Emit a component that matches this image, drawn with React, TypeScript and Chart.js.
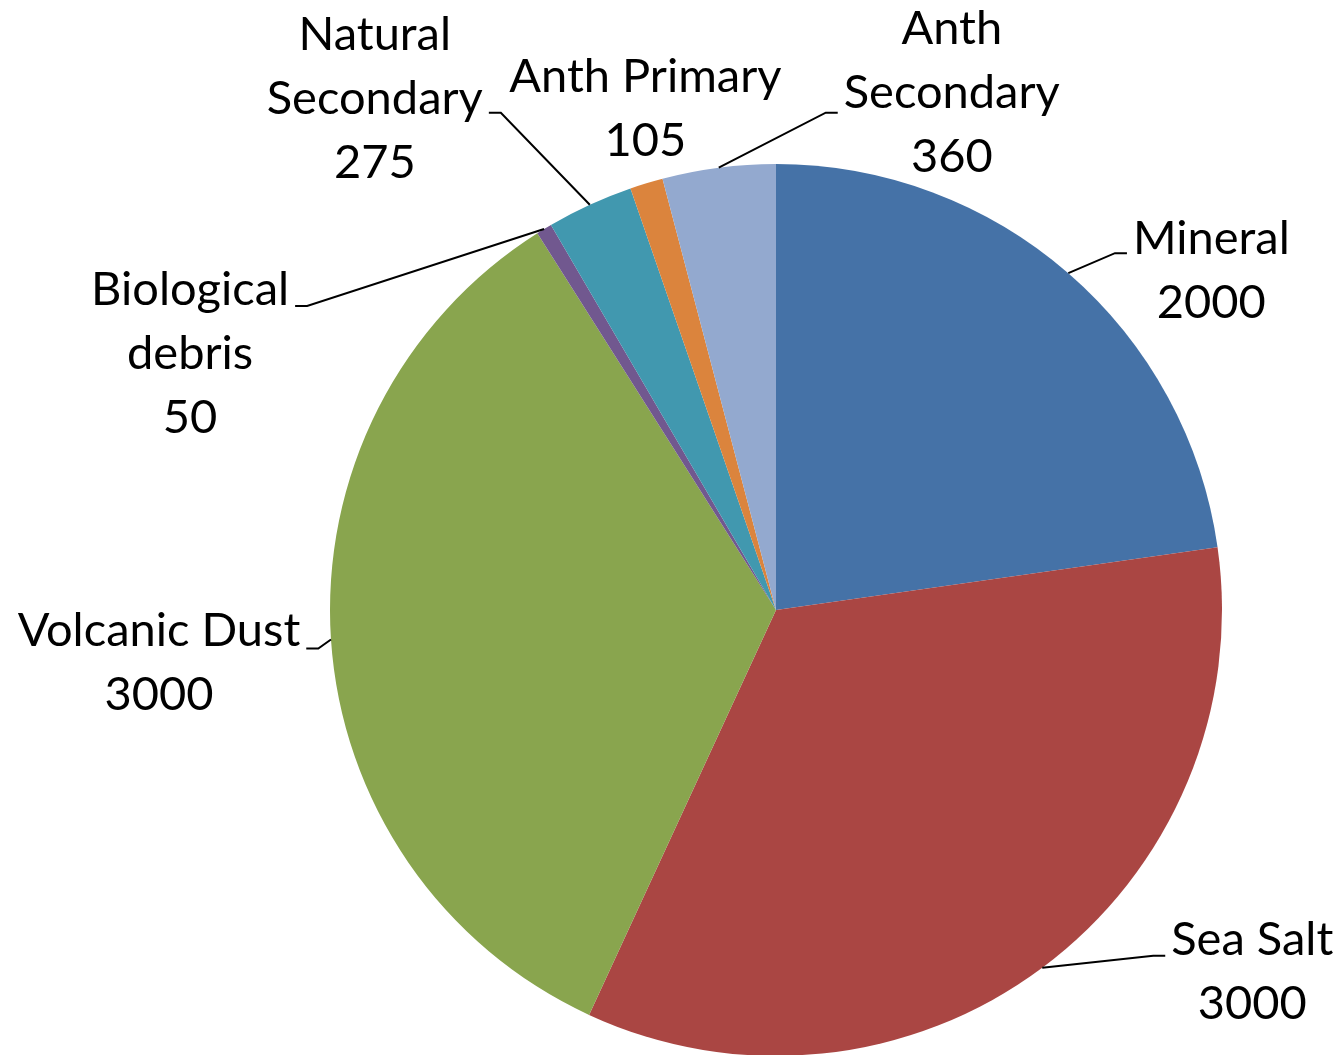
import React, { useEffect, useRef } from "react";
import { Chart, registerables } from "chart.js";

Chart.register(...registerables);

const categories = [
  "Mineral",
  "Sea Salt",
  "Volcanic Dust",
  "Biological debris",
  "Natural Secondary",
  "Anth Primary",
  "Anth Secondary",
];
const labelLines = [
  ["Mineral"],
  ["Sea Salt"],
  ["Volcanic Dust"],
  ["Biological", "debris"],
  ["Natural", "Secondary"],
  ["Anth Primary"],
  ["Anth", "Secondary"],
];
const values = [2000, 3000, 3000, 50, 275, 105, 360];
const colors = ["#4572A7", "#AA4643", "#89A54E", "#71588F", "#4198AF", "#DB843D", "#93A9CF"];

// label placement relative to the slice's mid-angle point on the rim
const labelLayout = [
  { dx: 143, dy: -19, side: "left", leadDy: -1 },
  { dx: 210, dy: -13, side: "left", leadDy: 1 },
  { dx: -172, dy: 7, side: "right", leadDy: 2 },
  { dx: -354, dy: 76, side: "right", leadDy: 1 },
  { dx: -215, dy: -155, side: "right", leadDy: 63 },
  { dx: -1, dy: -91, side: null, leadDy: 0 },
  { dx: 233, dy: -124, side: "left", leadDy: 69 },
];

const FONT = "Lato, 'Open Sans', sans-serif";
const FONT_SIZE = 47;
const LINE_H = 64;
const GAP = 6;
const SEG = 12;

const labelPlugin = {
  id: "pieLabels",
  afterDatasetsDraw(chart: any) {
    const ctx = chart.ctx as CanvasRenderingContext2D;
    const meta = chart.getDatasetMeta(0);
    ctx.save();
    ctx.font = `${FONT_SIZE}px ${FONT}`;
    ctx.fillStyle = "#000";
    ctx.strokeStyle = "#000";
    ctx.lineWidth = 2;
    ctx.textAlign = "center";
    ctx.textBaseline = "alphabetic";
    meta.data.forEach((arc: any, i: number) => {
      const { x, y, startAngle, endAngle, outerRadius } = arc.getProps(
        ["x", "y", "startAngle", "endAngle", "outerRadius"],
        true
      );
      const mid = (startAngle + endAngle) / 2;
      const ax = x + Math.cos(mid) * outerRadius;
      const ay = y + Math.sin(mid) * outerRadius;
      const lay = labelLayout[i];
      const lines = [...labelLines[i], String(values[i])];
      const cx = ax + lay.dx;
      const by = ay + lay.dy;
      const w = Math.max(...lines.map((l) => ctx.measureText(l).width));
      lines.forEach((l, k) => ctx.fillText(l, cx, by + k * LINE_H));
      if (lay.side) {
        const ly = by + lay.leadDy;
        const edge = lay.side === "left" ? cx - w / 2 - GAP : cx + w / 2 + GAP;
        const elbow = lay.side === "left" ? edge - SEG : edge + SEG;
        ctx.beginPath();
        ctx.moveTo(ax, ay);
        ctx.lineTo(elbow, ly);
        ctx.lineTo(edge, ly);
        ctx.stroke();
      }
    });
    ctx.restore();
  },
};

export default function App() {
  const ref = useRef<HTMLCanvasElement | null>(null);
  useEffect(() => {
    if (!ref.current) return;
    const chart = new Chart(ref.current, {
      type: "pie",
      data: {
        labels: categories,
        datasets: [
          {
            data: values,
            backgroundColor: colors,
            borderWidth: 0,
            hoverOffset: 0,
            offset: 0,
            radius: 446,
          } as any,
        ],
      },
      options: {
        responsive: false,
        animation: false,
        devicePixelRatio: 1,
        events: [],
        layout: { padding: { left: 330, right: 122, top: 164, bottom: 44 } },
        plugins: {
          legend: { display: false },
          tooltip: { enabled: false },
        },
      },
      plugins: [labelPlugin],
    });
    return () => chart.destroy();
  }, []);
  return (
    <div
      style={{
        position: "fixed",
        left: 0,
        top: 0,
        width: 1344,
        height: 1055,
        overflow: "hidden",
        background: "#fff",
      }}
    >
      <canvas ref={ref} width={1344} height={1100} style={{ display: "block", width: 1344, height: 1100 }} />
    </div>
  );
}
